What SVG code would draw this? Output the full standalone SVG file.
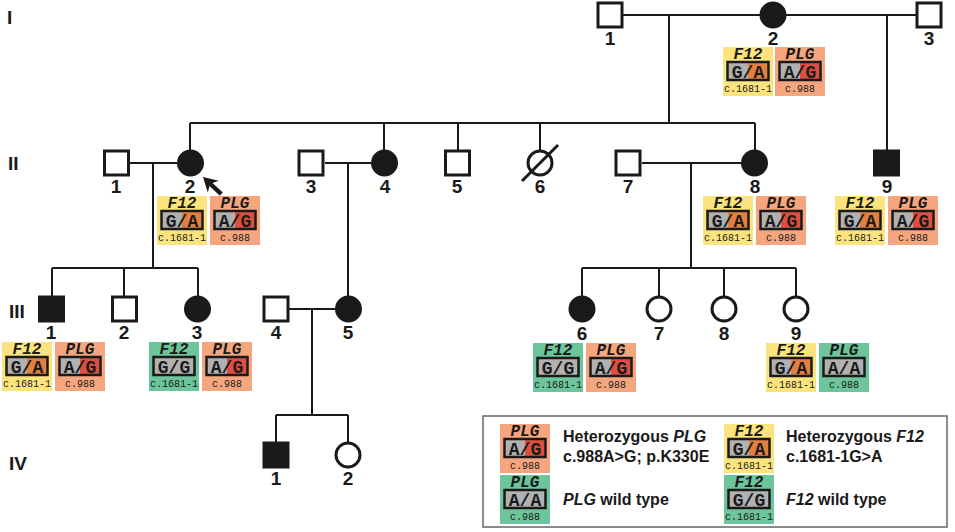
<svg xmlns="http://www.w3.org/2000/svg" width="955" height="532" viewBox="0 0 955 532">
<style>
.sym{stroke:#1a1a1a;stroke-width:3;fill:#fff}
.aff{fill:#1a1a1a}
.ln{stroke:#1a1a1a;stroke-width:2;fill:none}
.num{font-family:"Liberation Sans Narrow","Liberation Sans",Arial,sans-serif;font-weight:bold;font-size:19px;text-anchor:middle;fill:#1a1a1a}
.gen{font-family:"Liberation Sans Narrow","Liberation Sans",Arial,sans-serif;font-weight:bold;font-size:19px;fill:#1a1a1a}
.bgF{fill:#fbe47e}.bgP{fill:#f5a67e}.bgW{fill:#6cc59b}
.gr{fill:#b1b1b1}.or{fill:#e3803f}.rd{fill:#dd5040}
.frame{fill:none;stroke:#1a1a1a;stroke-width:2.5}
.ttl{font-family:"Liberation Mono","Courier New",monospace;font-weight:bold;font-style:italic;font-size:16px;text-anchor:middle;fill:#1a1a1a}
.gt{font-family:"Liberation Mono","Courier New",monospace;font-weight:bold;font-size:18px;text-anchor:middle;fill:#1a1a1a}
.sm{font-family:"Liberation Mono","Courier New",monospace;font-size:10px;text-anchor:middle;fill:#1a1a1a}
.lg{font-family:"Liberation Sans",Arial,sans-serif;font-weight:bold;font-size:16px;fill:#1a1a1a}
.it{font-style:italic}
.legframe{fill:none;stroke:#666;stroke-width:1.5}
</style>
<rect width="955" height="532" fill="#fff"/>

<g id="generation-labels">
<text class="gen" x="7" y="24">I</text>
<text class="gen" x="8" y="170">II</text>
<text class="gen" x="9" y="318">III</text>
<text class="gen" x="9" y="470">IV</text>
</g>

<g id="connectors">
<line class="ln" x1="623" y1="15" x2="916" y2="15"/>
<line class="ln" x1="669" y1="15" x2="669" y2="123"/>
<line class="ln" x1="887" y1="15" x2="887" y2="150"/>
<line class="ln" x1="190" y1="123" x2="755" y2="123"/>
<line class="ln" x1="190" y1="123" x2="190" y2="150"/>
<line class="ln" x1="384" y1="123" x2="384" y2="150"/>
<line class="ln" x1="458" y1="123" x2="458" y2="150"/>
<line class="ln" x1="540" y1="123" x2="540" y2="150"/>
<line class="ln" x1="755" y1="123" x2="755" y2="150"/>
<line class="ln" x1="130" y1="163" x2="177" y2="163"/>
<line class="ln" x1="153" y1="163" x2="153" y2="268"/>
<line class="ln" x1="52" y1="268" x2="198" y2="268"/>
<line class="ln" x1="52" y1="268" x2="52" y2="296"/>
<line class="ln" x1="124" y1="268" x2="124" y2="296"/>
<line class="ln" x1="198" y1="268" x2="198" y2="296"/>
<line class="ln" x1="325" y1="163" x2="371" y2="163"/>
<line class="ln" x1="348" y1="163" x2="348" y2="296"/>
<line class="ln" x1="642" y1="163" x2="741" y2="163"/>
<line class="ln" x1="691" y1="163" x2="691" y2="268"/>
<line class="ln" x1="582" y1="268" x2="796" y2="268"/>
<line class="ln" x1="582" y1="268" x2="582" y2="296"/>
<line class="ln" x1="659" y1="268" x2="659" y2="296"/>
<line class="ln" x1="724" y1="268" x2="724" y2="296"/>
<line class="ln" x1="796" y1="268" x2="796" y2="296"/>
<line class="ln" x1="289" y1="309" x2="335" y2="309"/>
<line class="ln" x1="312" y1="309" x2="312" y2="415"/>
<line class="ln" x1="276" y1="415" x2="348" y2="415"/>
<line class="ln" x1="276" y1="415" x2="276" y2="442"/>
<line class="ln" x1="348" y1="415" x2="348" y2="442"/>
</g>

<!-- Generation I -->
<g id="I-1"><rect class="sym" x="598" y="3" width="24" height="24"/><text class="num" x="610" y="45">1</text></g>
<g id="I-2"><circle class="sym aff" cx="773" cy="15" r="12"/><text class="num" x="773" y="45">2</text>
<g transform="translate(723,47)"><rect class="bgF" width="50" height="49"/><text class="ttl" x="25" y="12">F12</text><rect class="gr" x="4.5" y="15" width="20.5" height="18"/><rect class="or" x="25" y="15" width="20.5" height="18"/><rect class="frame" x="4.5" y="15" width="41" height="18"/><text class="gt" x="25" y="30.5">G/A</text><text class="sm" x="25" y="45">c.1681-1</text></g>
<g transform="translate(775,47)"><rect class="bgP" width="50" height="49"/><text class="ttl" x="25" y="12">PLG</text><rect class="gr" x="4.5" y="15" width="20.5" height="18"/><rect class="rd" x="25" y="15" width="20.5" height="18"/><rect class="frame" x="4.5" y="15" width="41" height="18"/><text class="gt" x="25" y="30.5">A/G</text><text class="sm" x="25" y="45">c.988</text></g>
</g>
<g id="I-3"><rect class="sym" x="917" y="3" width="24" height="24"/><text class="num" x="929" y="45">3</text></g>

<!-- Generation II -->
<g id="II-1"><rect class="sym" x="104.5" y="151" width="24" height="24"/><text class="num" x="116" y="193">1</text></g>
<g id="II-2"><circle class="sym aff" cx="190.5" cy="163" r="12"/><text class="num" x="190" y="193">2</text>
<polygon class="aff" transform="translate(203,177) rotate(43)" points="0,0 14,-8 11,-2.2 25,-2.2 25,2.2 11,2.2 14,8"/>
<g transform="translate(157,196)"><rect class="bgF" width="50" height="49"/><text class="ttl" x="25" y="12">F12</text><rect class="gr" x="4.5" y="15" width="20.5" height="18"/><rect class="or" x="25" y="15" width="20.5" height="18"/><rect class="frame" x="4.5" y="15" width="41" height="18"/><text class="gt" x="25" y="30.5">G/A</text><text class="sm" x="25" y="45">c.1681-1</text></g>
<g transform="translate(210,196)"><rect class="bgP" width="50" height="49"/><text class="ttl" x="25" y="12">PLG</text><rect class="gr" x="4.5" y="15" width="20.5" height="18"/><rect class="rd" x="25" y="15" width="20.5" height="18"/><rect class="frame" x="4.5" y="15" width="41" height="18"/><text class="gt" x="25" y="30.5">A/G</text><text class="sm" x="25" y="45">c.988</text></g>
</g>
<g id="II-3"><rect class="sym" x="299" y="151" width="24" height="24"/><text class="num" x="311" y="193">3</text></g>
<g id="II-4"><circle class="sym aff" cx="384.5" cy="163" r="12"/><text class="num" x="385" y="193">4</text></g>
<g id="II-5"><rect class="sym" x="445.5" y="151" width="24" height="24"/><text class="num" x="457" y="193">5</text></g>
<g id="II-6"><circle class="sym" cx="540" cy="163" r="12"/><line class="ln" x1="522" y1="181" x2="558" y2="145" style="stroke-width:3"/><text class="num" x="540" y="193">6</text></g>
<g id="II-7"><rect class="sym" x="616" y="151" width="24" height="24"/><text class="num" x="628" y="193">7</text></g>
<g id="II-8"><circle class="sym aff" cx="754.5" cy="163" r="12"/><text class="num" x="755" y="193">8</text>
<g transform="translate(703,196)"><rect class="bgF" width="50" height="49"/><text class="ttl" x="25" y="12">F12</text><rect class="gr" x="4.5" y="15" width="20.5" height="18"/><rect class="or" x="25" y="15" width="20.5" height="18"/><rect class="frame" x="4.5" y="15" width="41" height="18"/><text class="gt" x="25" y="30.5">G/A</text><text class="sm" x="25" y="45">c.1681-1</text></g>
<g transform="translate(756,196)"><rect class="bgP" width="50" height="49"/><text class="ttl" x="25" y="12">PLG</text><rect class="gr" x="4.5" y="15" width="20.5" height="18"/><rect class="rd" x="25" y="15" width="20.5" height="18"/><rect class="frame" x="4.5" y="15" width="41" height="18"/><text class="gt" x="25" y="30.5">A/G</text><text class="sm" x="25" y="45">c.988</text></g>
</g>
<g id="II-9"><rect class="sym aff" x="874.5" y="151" width="24" height="24"/><text class="num" x="887" y="193">9</text>
<g transform="translate(835,196)"><rect class="bgF" width="50" height="49"/><text class="ttl" x="25" y="12">F12</text><rect class="gr" x="4.5" y="15" width="20.5" height="18"/><rect class="or" x="25" y="15" width="20.5" height="18"/><rect class="frame" x="4.5" y="15" width="41" height="18"/><text class="gt" x="25" y="30.5">G/A</text><text class="sm" x="25" y="45">c.1681-1</text></g>
<g transform="translate(888,196)"><rect class="bgP" width="50" height="49"/><text class="ttl" x="25" y="12">PLG</text><rect class="gr" x="4.5" y="15" width="20.5" height="18"/><rect class="rd" x="25" y="15" width="20.5" height="18"/><rect class="frame" x="4.5" y="15" width="41" height="18"/><text class="gt" x="25" y="30.5">A/G</text><text class="sm" x="25" y="45">c.988</text></g>
</g>

<!-- Generation III -->
<g id="III-1"><rect class="sym aff" x="39.5" y="297" width="24" height="24"/><text class="num" x="51" y="339">1</text>
<g transform="translate(2,342)"><rect class="bgF" width="50" height="49"/><text class="ttl" x="25" y="12">F12</text><rect class="gr" x="4.5" y="15" width="20.5" height="18"/><rect class="or" x="25" y="15" width="20.5" height="18"/><rect class="frame" x="4.5" y="15" width="41" height="18"/><text class="gt" x="25" y="30.5">G/A</text><text class="sm" x="25" y="45">c.1681-1</text></g>
<g transform="translate(55,342)"><rect class="bgP" width="50" height="49"/><text class="ttl" x="25" y="12">PLG</text><rect class="gr" x="4.5" y="15" width="20.5" height="18"/><rect class="rd" x="25" y="15" width="20.5" height="18"/><rect class="frame" x="4.5" y="15" width="41" height="18"/><text class="gt" x="25" y="30.5">A/G</text><text class="sm" x="25" y="45">c.988</text></g>
</g>
<g id="III-2"><rect class="sym" x="112.5" y="297" width="24" height="24"/><text class="num" x="124" y="339">2</text></g>
<g id="III-3"><circle class="sym aff" cx="197.5" cy="309" r="12"/><text class="num" x="197" y="339">3</text>
<g transform="translate(149,342)"><rect class="bgW" width="50" height="49"/><text class="ttl" x="25" y="12">F12</text><rect class="gr" x="4.5" y="15" width="41" height="18"/><rect class="frame" x="4.5" y="15" width="41" height="18"/><text class="gt" x="25" y="30.5">G/G</text><text class="sm" x="25" y="45">c.1681-1</text></g>
<g transform="translate(202,342)"><rect class="bgP" width="50" height="49"/><text class="ttl" x="25" y="12">PLG</text><rect class="gr" x="4.5" y="15" width="20.5" height="18"/><rect class="rd" x="25" y="15" width="20.5" height="18"/><rect class="frame" x="4.5" y="15" width="41" height="18"/><text class="gt" x="25" y="30.5">A/G</text><text class="sm" x="25" y="45">c.988</text></g>
</g>
<g id="III-4"><rect class="sym" x="264" y="297" width="24" height="24"/><text class="num" x="276" y="339">4</text></g>
<g id="III-5"><circle class="sym aff" cx="348.5" cy="309" r="12"/><text class="num" x="348" y="339">5</text></g>
<g id="III-6"><circle class="sym aff" cx="582" cy="309" r="12"/><text class="num" x="582" y="340">6</text>
<g transform="translate(533,343)"><rect class="bgW" width="50" height="49"/><text class="ttl" x="25" y="12">F12</text><rect class="gr" x="4.5" y="15" width="41" height="18"/><rect class="frame" x="4.5" y="15" width="41" height="18"/><text class="gt" x="25" y="30.5">G/G</text><text class="sm" x="25" y="45">c.1681-1</text></g>
<g transform="translate(586,343)"><rect class="bgP" width="50" height="49"/><text class="ttl" x="25" y="12">PLG</text><rect class="gr" x="4.5" y="15" width="20.5" height="18"/><rect class="rd" x="25" y="15" width="20.5" height="18"/><rect class="frame" x="4.5" y="15" width="41" height="18"/><text class="gt" x="25" y="30.5">A/G</text><text class="sm" x="25" y="45">c.988</text></g>
</g>
<g id="III-7"><circle class="sym" cx="659" cy="309" r="12"/><text class="num" x="659" y="340">7</text></g>
<g id="III-8"><circle class="sym" cx="724" cy="309" r="12"/><text class="num" x="724" y="340">8</text></g>
<g id="III-9"><circle class="sym" cx="796" cy="309" r="12"/><text class="num" x="796" y="340">9</text>
<g transform="translate(766,343)"><rect class="bgF" width="50" height="49"/><text class="ttl" x="25" y="12">F12</text><rect class="gr" x="4.5" y="15" width="20.5" height="18"/><rect class="or" x="25" y="15" width="20.5" height="18"/><rect class="frame" x="4.5" y="15" width="41" height="18"/><text class="gt" x="25" y="30.5">G/A</text><text class="sm" x="25" y="45">c.1681-1</text></g>
<g transform="translate(819,343)"><rect class="bgW" width="50" height="49"/><text class="ttl" x="25" y="12">PLG</text><rect class="gr" x="4.5" y="15" width="41" height="18"/><rect class="frame" x="4.5" y="15" width="41" height="18"/><text class="gt" x="25" y="30.5">A/A</text><text class="sm" x="25" y="45">c.988</text></g>
</g>

<!-- Generation IV -->
<g id="IV-1"><rect class="sym aff" x="264" y="443" width="24" height="24"/><text class="num" x="276" y="485">1</text></g>
<g id="IV-2"><circle class="sym" cx="348" cy="455" r="12"/><text class="num" x="348" y="485">2</text></g>

<!-- Legend -->
<g id="legend">
<rect class="legframe" x="483" y="416" width="464" height="111"/>
<g transform="translate(500,424)"><rect class="bgP" width="50" height="49"/><text class="ttl" x="25" y="12">PLG</text><rect class="gr" x="4.5" y="15" width="20.5" height="18"/><rect class="rd" x="25" y="15" width="20.5" height="18"/><rect class="frame" x="4.5" y="15" width="41" height="18"/><text class="gt" x="25" y="30.5">A/G</text><text class="sm" x="25" y="45">c.988</text></g>
<g transform="translate(500,475)"><rect class="bgW" width="50" height="49"/><text class="ttl" x="25" y="12">PLG</text><rect class="gr" x="4.5" y="15" width="41" height="18"/><rect class="frame" x="4.5" y="15" width="41" height="18"/><text class="gt" x="25" y="30.5">A/A</text><text class="sm" x="25" y="45">c.988</text></g>
<g transform="translate(724,424)"><rect class="bgF" width="50" height="49"/><text class="ttl" x="25" y="12">F12</text><rect class="gr" x="4.5" y="15" width="20.5" height="18"/><rect class="or" x="25" y="15" width="20.5" height="18"/><rect class="frame" x="4.5" y="15" width="41" height="18"/><text class="gt" x="25" y="30.5">G/A</text><text class="sm" x="25" y="45">c.1681-1</text></g>
<g transform="translate(724,475)"><rect class="bgW" width="50" height="49"/><text class="ttl" x="25" y="12">F12</text><rect class="gr" x="4.5" y="15" width="41" height="18"/><rect class="frame" x="4.5" y="15" width="41" height="18"/><text class="gt" x="25" y="30.5">G/G</text><text class="sm" x="25" y="45">c.1681-1</text></g>
<text class="lg" x="563" y="442">Heterozygous <tspan class="it">PLG</tspan></text>
<text class="lg" x="563" y="462">c.988A&gt;G; p.K330E</text>
<text class="lg" x="563" y="505"><tspan class="it">PLG</tspan> wild type</text>
<text class="lg" x="786" y="442">Heterozygous <tspan class="it">F12</tspan></text>
<text class="lg" x="786" y="462">c.1681-1G&gt;A</text>
<text class="lg" x="786" y="505"><tspan class="it">F12</tspan> wild type</text>
</g>
</svg>
